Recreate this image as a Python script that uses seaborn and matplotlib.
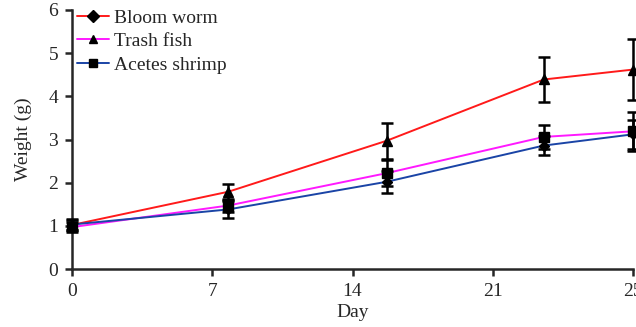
import pandas as pd
import numpy as np
import matplotlib
matplotlib.use("Agg")
import matplotlib.pyplot as plt
import seaborn as sns
from matplotlib.lines import Line2D

# Datos
days = [0, 7.8, 15.7, 23.55, 28]
bloom_worm = [1.02, 1.79, 2.97, 4.39, 4.62]
bloom_worm_err = [0.12, 0.18, 0.42, 0.52, 0.71]
trash_fish = [0.97, 1.47, 2.22, 3.06, 3.19]
trash_fish_err = [0.12, 0.15, 0.30, 0.27, 0.45]
acetes_shrimp = [1.03, 1.38, 2.02, 2.86, 3.12]
acetes_shrimp_err = [0.12, 0.20, 0.25, 0.22, 0.33]

series_names = ["Bloom worm", "Trash fish", "Acetes shrimp"]
tick_pos = [0, 7, 14, 21, 28]
tick_labels = ["0", "7", "14", "21", "25"]

colors = {"Bloom worm": "#ff1a1a", "Trash fish": "#ff19ff", "Acetes shrimp": "#1a44a6"}
# marcadores en la leyenda y en los puntos (no coinciden en el original)
legend_markers = {"Bloom worm": "D", "Trash fish": "^", "Acetes shrimp": "s"}
point_markers = {"Bloom worm": "^", "Trash fish": "s", "Acetes shrimp": "D"}

values = {"Bloom worm": (bloom_worm, bloom_worm_err),
          "Trash fish": (trash_fish, trash_fish_err),
          "Acetes shrimp": (acetes_shrimp, acetes_shrimp_err)}

rows = []
for name in series_names:
    for d, v in zip(days, values[name][0]):
        rows.append({"Day": d, "Weight": v, "Feed": name})
df = pd.DataFrame(rows)

sns.set_style("ticks")
plt.rcParams['font.family'] = ['Liberation Serif', 'DejaVu Serif']
plt.rcParams['font.size'] = 14

fig = plt.figure(figsize=(6.36, 3.27), dpi=100)
ax = fig.add_axes([72 / 636, 58 / 327, 561 / 636, 259 / 327])

sns.lineplot(data=df, x="Day", y="Weight", hue="Feed", palette=colors,
             hue_order=series_names, linewidth=1.4, legend=False, ax=ax, zorder=2)

for name in series_names:
    y, err = values[name]
    ax.errorbar(days, y, yerr=err, fmt=point_markers[name], color="black",
                markersize=7 if point_markers[name] != "D" else 5,
                elinewidth=1.8, capsize=4, capthick=1.8, zorder=3, clip_on=False)

ax.set_xlim(0, 28)
ax.set_ylim(0, 6)
ax.set_xticks(tick_pos)
ax.set_xticklabels(tick_labels)
ax.set_yticks(range(0, 7))
ax.set_xlabel("Day", fontsize=14, labelpad=3)
ax.set_ylabel("Weight (g)", fontsize=14, labelpad=12)
sns.despine(ax=ax)
for s in ["left", "bottom"]:
    ax.spines[s].set_linewidth(1.8)
ax.tick_params(width=1.8, length=5, labelsize=14, pad=5)

handles = [Line2D([0], [0], color=colors[n], marker=legend_markers[n], markersize=6,
                  markerfacecolor="black", markeredgecolor="black", linewidth=1.4)
           for n in series_names]
ax.legend(handles, series_names, loc="upper left", frameon=False, fontsize=14,
          bbox_to_anchor=(-0.012, 1.048), handlelength=1.65, handletextpad=0.25,
          labelspacing=0.3, borderaxespad=0.2)

fig.savefig("out.png", dpi=100)
